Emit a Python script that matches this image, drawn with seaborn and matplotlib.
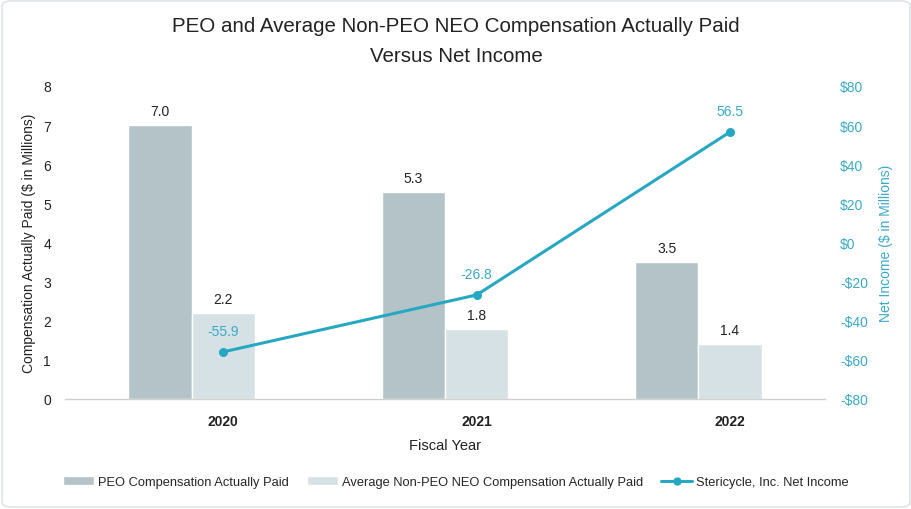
import numpy as np
import pandas as pd
import matplotlib
matplotlib.use("Agg")
import matplotlib.pyplot as plt
import seaborn as sns
from matplotlib.patches import FancyBboxPatch
from matplotlib.lines import Line2D
from matplotlib.patches import Patch

years = ["2020", "2021", "2022"]
peo_cap = [7.0, 5.3, 3.5]
neo_cap = [2.2, 1.8, 1.4]
net_income = [-55.9, -26.8, 56.5]
series_names = ["PEO Compensation Actually Paid",
                "Average Non-PEO NEO Compensation Actually Paid"]
line_name = "Stericycle, Inc. Net Income"
left_ticks = [0, 1, 2, 3, 4, 5, 6, 7, 8]
right_ticks = [-80, -60, -40, -20, 0, 20, 40, 60, 80]

sns.set_theme(style="white")
plt.rcParams['font.family'] = ['Liberation Sans', 'DejaVu Sans']

bar_colors = ["#b4c3c8", "#d6e1e5"]
line_color = "#27a8c2"
teal_text = "#3ba9c6"

fig = plt.figure(figsize=(9.12, 5.1), dpi=100)
ax = fig.add_axes([65/912, 1-400/510, 760/912, 313/510])

df = pd.DataFrame({
    "Year": years * 2,
    "Value": peo_cap + neo_cap,
    "Series": [series_names[0]]*3 + [series_names[1]]*3,
})
sns.barplot(data=df, x="Year", y="Value", hue="Series", palette=bar_colors,
            width=0.5, ax=ax, legend=False, saturation=1, errorbar=None)
for cont in ax.containers:
    ax.bar_label(cont, fmt="%.1f", padding=5, fontsize=10, color="#222222")

# category label / line position sits on the right-hand bar of each pair
xpos = np.arange(len(years)) + 0.125

ax.set_ylim(0, 8)
ax.set_xlim(-0.5, 2.5)
ax.set_xticks(xpos)
ax.set_xticklabels(years, fontsize=10, color="#222222", fontweight="bold")
ax.set_yticks(left_ticks)
ax.set_yticklabels([str(t) for t in left_ticks], fontsize=10, color="#222222")
ax.set_ylabel("Compensation Actually Paid ($ in Millions)", fontsize=10, color="#222222", labelpad=5)
ax.set_xlabel("Fiscal Year", fontsize=10.5, color="#222222", labelpad=7)
ax.tick_params(axis="x", length=0, pad=11)
ax.tick_params(axis="y", length=0, pad=10)
for s in ["top", "right", "left"]:
    ax.spines[s].set_visible(False)
ax.spines["bottom"].set_color("#d0d0d0")
ax.spines["bottom"].set_linewidth(1)

ax2 = ax.twinx()
sns.lineplot(x=xpos, y=net_income, ax=ax2, color=line_color, linewidth=2.2,
             marker="o", markersize=6.5, markeredgewidth=0, legend=False)
ax2.set_ylim(-80, 80)
ax2.set_yticks(right_ticks)
ax2.set_yticklabels([f"-${abs(t)}" if t < 0 else f"${t}" for t in right_ticks],
                    fontsize=10, color=teal_text)
ax2.set_ylabel("Net Income ($ in Millions)", fontsize=10, color=teal_text, labelpad=8)
ax2.tick_params(axis="y", length=0, pad=11)
for s in ["top", "right", "left", "bottom"]:
    ax2.spines[s].set_visible(False)
for x, v in zip(xpos, net_income):
    ax2.annotate(f"{v:.1f}", (x, v), xytext=(0, 10), textcoords="offset points",
                 ha="center", va="bottom", fontsize=10, color=teal_text)
ax2.set_xlim(-0.5, 2.5)

fig.text(0.5, 1-27/510, "PEO and Average Non-PEO NEO Compensation Actually Paid",
         ha="center", va="center", fontsize=14.8, color="#222222")
fig.text(0.5, 1-56/510, "Versus Net Income", ha="center", va="center",
         fontsize=14.8, color="#222222")

handles = [Patch(facecolor=bar_colors[0], label=series_names[0]),
           Patch(facecolor=bar_colors[1], label=series_names[1]),
           Line2D([0], [0], color=line_color, lw=2.2, marker="o", markersize=5,
                  label=line_name)]
fig.legend(handles=handles, loc="center", bbox_to_anchor=(0.5, 1-483/510), ncol=3,
           frameon=False, fontsize=9.3, handlelength=2.4, columnspacing=1.4,
           handletextpad=0.3)

border = FancyBboxPatch((2/912, 2/510), 1-4/912, 1-4/510,
                        boxstyle="round,pad=0,rounding_size=0.01",
                        transform=fig.transFigure, fill=False,
                        edgecolor="#dfe3e8", linewidth=1.2)
fig.patches.append(border)

fig.savefig("out.png", dpi=100, facecolor="white")
